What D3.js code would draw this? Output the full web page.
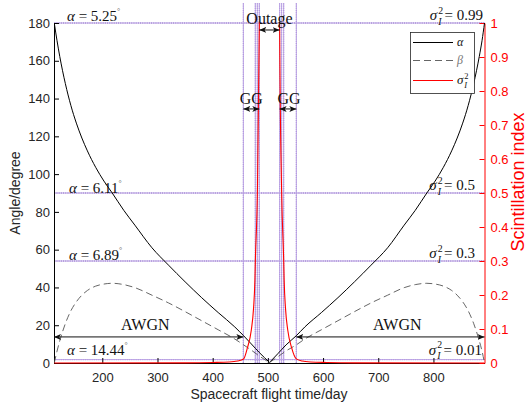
<!DOCTYPE html>
<html>
<head>
<meta charset="utf-8">
<script src="https://cdn.jsdelivr.net/npm/d3@7"></script>
<style>
  body { margin: 0; background: #fff; }
  svg { display: block; }
</style>
</head>
<body>
<div id="chart"></div>
<script>
// alpha / beta angles (degree) against flight day
const alphaDays = [113, 118, 123, 133, 143, 153, 163, 173, 188, 203, 218, 239, 259, 290, 320, 350, 380, 410, 440, 456, 470, 485, 503,
                   518, 533, 551.5, 567, 597, 627, 657, 687, 717, 747, 767, 788, 803, 818, 833, 843, 853, 863, 873, 883, 888, 892.5];
const alphaValues = [180, 170.6, 162.2, 148, 136.4, 127, 119.1, 112.3, 103.6, 96.3, 90, 80.8, 73, 61, 51.8, 43, 34.6, 26.7, 19.1, 14.44, 10.1, 5.4, 0.3,
                     4.9, 9.6, 14.44, 19.1, 26.7, 34.6, 43, 51.8, 61, 73, 80.8, 90, 96.3, 103.6, 112.3, 119.1, 127, 136.4, 148, 162.2, 170.6, 180];
const betaValues = [0, 6.3, 11.8, 20.8, 27.6, 32.4, 35.9, 38.4, 40.7, 41.8, 42.2, 41.5, 39.9, 35.9, 31.8, 27.2, 22.4, 17.6, 12.7, 9.6, 6.8, 3.6, 0.2,
                    3.3, 6.4, 9.6, 12.7, 17.6, 22.4, 27.2, 31.8, 35.9, 39.9, 41.5, 42.2, 41.8, 40.7, 38.4, 35.9, 32.4, 27.6, 20.8, 11.8, 6.3, 0];

// scintillation index (two branches, outage in between)
const sigmaLeftDays = [113, 350, 400, 430, 445, 456, 463, 470, 474, 476.5, 477.3, 481, 484.5, 486];
const sigmaLeftValues = [0, 0.0005, 0.0015, 0.003, 0.006, 0.012, 0.045, 0.097, 0.16, 0.244, 0.3, 0.5, 0.99, 1.4];
const sigmaRightDays = [520, 521.3, 525, 528.7, 529.5, 532, 536, 543, 551.5, 562, 577, 607, 657, 892.5];
const sigmaRightValues = [1.4, 0.99, 0.5, 0.3, 0.244, 0.16, 0.097, 0.045, 0.012, 0.006, 0.003, 0.0015, 0.0005, 0];

// thresholds
const thresholdDays = [455.6, 477.3, 480.9, 484.5, 521.3, 524.9, 528.6, 551.6];
const sigmaLevels = [1, 0.5, 0.3, 0.01];
const sigmaLabels = ["0.99", "0.5", "0.3", "0.01"];
const alphaLabels = ["5.25", "6.11", "6.89", "14.44"];

const xTicks = [200, 300, 400, 500, 600, 700, 800];
const yTicks = [0, 20, 40, 60, 80, 100, 120, 140, 160, 180];
const rTicks = [0, 0.1, 0.2, 0.3, 0.4, 0.5, 0.6, 0.7, 0.8, 0.9, 1];

const w = 529, h = 407;
const serif = "'Liberation Serif', 'Times New Roman', serif";
const sans = "'Liberation Sans', Arial, sans-serif";
const purple = "#5a2ca8";

const svg = d3.select("#chart").append("svg")
    .attr("width", w)
    .attr("height", h)
    .style("background", "#fff");

const x = d3.scaleLinear().domain([112.5, 892.5]).range([54, 484.5]);
const y = d3.scaleLinear().domain([0, 180]).range([363, 23]);
const yr = d3.scaleLinear().domain([0, 1]).range([363, 23]);

svg.append("defs").append("clipPath").attr("id", "clip")
  .append("rect").attr("x", 54).attr("y", 22).attr("width", 431).attr("height", 342);

svg.select("defs").append("marker")
    .attr("id", "head")
    .attr("markerUnits", "userSpaceOnUse")
    .attr("viewBox", "0 -4 8 8")
    .attr("refX", 7).attr("refY", 0)
    .attr("markerWidth", 8).attr("markerHeight", 8)
    .attr("orient", "auto-start-reverse")
  .append("path")
    .attr("d", "M0,-3 L7,0 L0,3 L1.8,0 Z")
    .attr("fill", "#111");

// dotted guide lines
function dotted(sel) {
  sel.clone().attr("stroke", "#bda6e6").attr("stroke-width", 1);
  sel.attr("stroke", purple).attr("stroke-width", 1).attr("stroke-dasharray", "1,1.2");
}
sigmaLevels.forEach(v => {
  svg.append("line").attr("x1", x(113)).attr("x2", x(892.5))
    .attr("y1", yr(v)).attr("y2", yr(v)).call(dotted);
});
thresholdDays.forEach(d => {
  svg.append("line").attr("x1", x(d)).attr("x2", x(d))
    .attr("y1", y(0)).attr("y2", 3).call(dotted);
});

// axes
const gx = svg.append("g").attr("transform", "translate(0,363)")
    .call(d3.axisBottom(x).tickValues(xTicks).tickSizeInner(-5).tickSizeOuter(0).tickPadding(10));
const gy = svg.append("g").attr("transform", "translate(54,0)")
    .call(d3.axisLeft(y).tickValues(yTicks).tickSizeInner(-5).tickSizeOuter(0).tickPadding(4));
const gr = svg.append("g").attr("transform", "translate(484.5,0)")
    .call(d3.axisRight(yr).tickValues(rTicks).tickFormat(d => +d.toFixed(1)).tickSizeInner(-5).tickSizeOuter(0).tickPadding(6));
[gx, gy].forEach(g => {
  g.selectAll("path,line").attr("stroke", "#000");
  g.selectAll("text").attr("font-family", sans).attr("font-size", 13).attr("fill", "#262626");
});
gr.selectAll("path,line").attr("stroke", "#f00");
gr.selectAll("text").attr("font-family", sans).attr("font-size", 13).attr("fill", "#f00");

svg.append("text").attr("x", 269).attr("y", 399).attr("text-anchor", "middle")
  .attr("font-family", sans).attr("font-size", 14).attr("fill", "#262626")
  .text("Spacecraft flight time/day");
svg.append("text").attr("transform", "translate(20,193) rotate(-90)").attr("text-anchor", "middle")
  .attr("font-family", sans).attr("font-size", 14).attr("fill", "#262626")
  .text("Angle/degree");
svg.append("text").attr("transform", "translate(524,182) rotate(-90)").attr("text-anchor", "middle")
  .attr("font-family", sans).attr("font-size", 18).attr("fill", "#f00")
  .text("Scintillation index");

// curves
const plot = svg.append("g").attr("clip-path", "url(#clip)");
const minIdx = alphaValues.indexOf(d3.min(alphaValues));
const line = d3.line().x(d => x(d[0])).y(d => y(d[1])).curve(d3.curveMonotoneX);
const lineR = d3.line().x(d => x(d[0])).y(d => yr(d[1])).curve(d3.curveMonotoneX);

const alphaPts = alphaDays.map((d, i) => [d, alphaValues[i]]);
const betaPts = alphaDays.map((d, i) => [d, betaValues[i]]);
[alphaPts.slice(0, minIdx + 1), alphaPts.slice(minIdx)].forEach(p => {
  plot.append("path").attr("d", line(p)).attr("fill", "none").attr("stroke", "#000").attr("stroke-width", 1);
});
[betaPts.slice(0, minIdx + 1), betaPts.slice(minIdx)].forEach(p => {
  plot.append("path").attr("d", line(p)).attr("fill", "none").attr("stroke", "#555")
    .attr("stroke-width", 0.9).attr("stroke-dasharray", "7,4");
});
[sigmaLeftDays.map((d, i) => [d, sigmaLeftValues[i]]),
 sigmaRightDays.map((d, i) => [d, sigmaRightValues[i]])].forEach(p => {
  plot.append("path").attr("d", lineR(p)).attr("fill", "none").attr("stroke", "#f00").attr("stroke-width", 1.1);
});

// arrows
function arrow(d1, d2, a) {
  svg.append("line").attr("x1", x(d1)).attr("x2", x(d2)).attr("y1", y(a)).attr("y2", y(a))
    .attr("stroke", "#111").attr("stroke-width", 1)
    .attr("marker-start", "url(#head)").attr("marker-end", "url(#head)");
}
arrow(112.5, thresholdDays[0], 13.8);
arrow(thresholdDays[7], 892.5, 13.8);
arrow(thresholdDays[0], thresholdDays[3], 134.5);
arrow(thresholdDays[4], thresholdDays[7], 134.5);
arrow(thresholdDays[3], thresholdDays[4], 176.3);

function label(txt, xx, yy, anchor) {
  svg.append("text").attr("x", xx).attr("y", yy).attr("text-anchor", anchor || "start")
    .attr("font-family", serif).attr("font-size", 16).attr("fill", "#111").text(txt);
}
label("AWGN", 121, 330);
label("AWGN", 373, 330);
label("GG", x((thresholdDays[0] + thresholdDays[3]) / 2), 104, "middle");
label("GG", x((thresholdDays[4] + thresholdDays[7]) / 2) + 1, 104, "middle");
label("Outage", x((thresholdDays[3] + thresholdDays[4]) / 2), 24, "middle");

// alpha annotations (left)
const alphaX = [67, 69, 69, 67];
const alphaDy = [-2, 0, -1, -5];
alphaLabels.forEach((v, i) => {
  const t = svg.append("text").attr("x", alphaX[i]).attr("y", yr(sigmaLevels[i]) + alphaDy[i])
    .attr("font-family", serif).attr("font-size", 15).attr("fill", "#111");
  t.append("tspan").attr("font-style", "italic").text("α");
  t.append("tspan").text(" = " + v);
  t.append("tspan").attr("dy", -7).attr("font-size", 8).attr("fill", "#666").text("°");
});

// sigma annotations (right)
function sigmaSym(g, x0, yb, fs, tail) {
  g.append("text").attr("x", x0).attr("y", yb).attr("font-family", serif).attr("font-size", fs)
    .attr("font-style", "italic").attr("fill", "#111").text("σ");
  const sx = x0 + fs * 0.56;
  g.append("text").attr("x", sx).attr("y", yb - fs * 0.42).attr("font-family", serif)
    .attr("font-size", fs * 0.65).attr("fill", "#111").text("2");
  g.append("text").attr("x", sx).attr("y", yb + fs * 0.3).attr("font-family", serif)
    .attr("font-size", fs * 0.65).attr("font-style", "italic").attr("fill", "#111").text("I");
  if (tail) {
    g.append("text").attr("x", sx + fs * 0.42).attr("y", yb).attr("font-family", serif)
      .attr("font-size", fs).attr("fill", "#111").text(tail);
  }
}
const sigmaXEnd = [483, 475, 475, 482];
const sigmaDy = [-3, -3, -3, -5];
sigmaLabels.forEach((v, i) => {
  const g = svg.append("g");
  sigmaSym(g, 0, yr(sigmaLevels[i]) + sigmaDy[i], 15, " = " + v);
  const bb = g.node().getBBox();
  g.attr("transform", `translate(${sigmaXEnd[i] - bb.x - bb.width},0)`);
});

// legend
const lg = svg.append("g");
lg.append("rect").attr("x", 410.5).attr("y", 32.5).attr("width", 64).attr("height", 61)
  .attr("fill", "#fff").attr("stroke", "#262626").attr("stroke-width", 0.8);
lg.append("line").attr("x1", 413).attr("x2", 453).attr("y1", 42.5).attr("y2", 42.5)
  .attr("stroke", "#000").attr("stroke-width", 1);
lg.append("line").attr("x1", 413).attr("x2", 453).attr("y1", 60.5).attr("y2", 60.5)
  .attr("stroke", "#555").attr("stroke-width", 0.9).attr("stroke-dasharray", "7,4");
lg.append("line").attr("x1", 413).attr("x2", 453).attr("y1", 80.5).attr("y2", 80.5)
  .attr("stroke", "#f00").attr("stroke-width", 1.1);
lg.append("text").attr("x", 457).attr("y", 46).attr("font-family", serif).attr("font-size", 12)
  .attr("font-style", "italic").attr("fill", "#111").text("α");
lg.append("text").attr("x", 457).attr("y", 64).attr("font-family", serif).attr("font-size", 12)
  .attr("font-style", "italic").attr("fill", "#777").text("β");
sigmaSym(lg, 457, 84, 13);
</script>
</body>
</html>
